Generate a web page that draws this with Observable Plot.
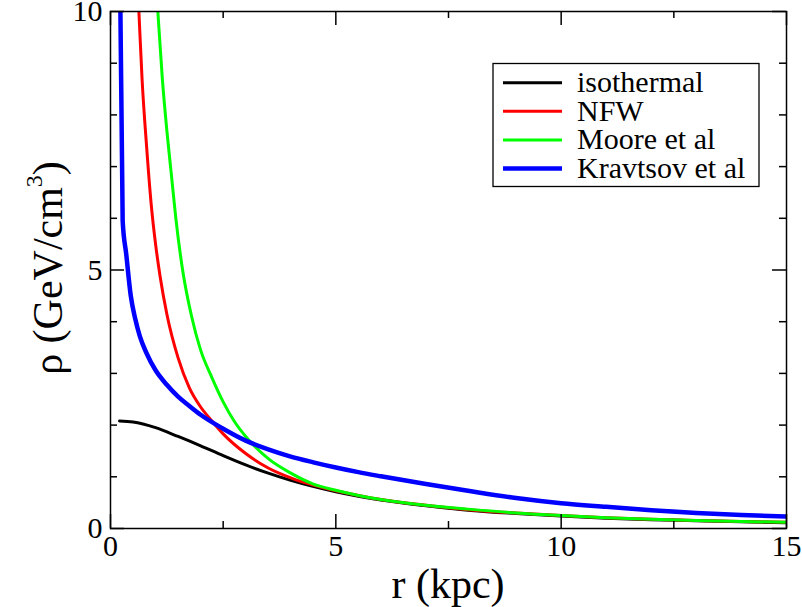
<!DOCTYPE html>
<html><head><meta charset="utf-8">
<script src="https://cdn.jsdelivr.net/npm/d3@7"></script>
<script src="https://cdn.jsdelivr.net/npm/@observablehq/plot@0.6"></script>
<style>
body{margin:0;background:#fff;}
#wrap{position:relative;width:802px;height:607px;}
</style></head><body><div id="wrap"></div>
<script>
// ---- data ----
const seriesNames = ["isothermal", "NFW", "Moore et al", "Kravtsov et al"];
const seriesColors = ["#000000", "#ff0000", "#00ff00", "#0000ff"];
const seriesWidths = [3, 3, 3, 4.5];

const isoR   = [0.2, 0.5, 1, 1.5, 2, 2.5, 3, 3.5, 4, 5, 6, 7, 8, 9, 10, 11, 12, 13, 14, 15];
const isoRho = [2.08, 2.06, 1.95, 1.78, 1.60, 1.41, 1.23, 1.07, 0.93, 0.71, 0.55, 0.44, 0.35, 0.29, 0.24, 0.20, 0.17, 0.15, 0.13, 0.11];

const nfwR   = [0.55, 0.63, 0.7, 0.8, 0.9, 1.0, 1.1, 1.25, 1.5, 1.75, 2.0, 2.25, 2.5, 3.0, 3.5, 4.0, 4.5, 5.0, 5.5, 6, 7, 8, 9, 10, 11, 12, 13, 14, 15];
const nfwRho = [11.5, 10, 8.7, 7.4, 6.3, 5.5, 4.88, 4.15, 3.3, 2.72, 2.35, 2.08, 1.83, 1.45, 1.17, 0.98, 0.84, 0.73, 0.64, 0.56, 0.45, 0.36, 0.30, 0.25, 0.21, 0.18, 0.155, 0.135, 0.12];

const mooreR   = [0.95, 1.05, 1.15, 1.25, 1.35, 1.45, 1.6, 1.8, 2.0, 2.25, 2.5, 2.75, 3.0, 3.5, 4.0, 4.5, 5.0, 5.5, 6, 7, 8, 9, 10, 11, 12, 13, 14, 15];
const mooreRho = [11.5, 10, 8.7, 7.7, 6.85, 6.0, 5.0, 4.1, 3.45, 2.92, 2.45, 2.07, 1.78, 1.35, 1.07, 0.86, 0.74, 0.64, 0.56, 0.45, 0.37, 0.30, 0.25, 0.21, 0.18, 0.155, 0.135, 0.12];

const kravR   = [0.2, 0.27, 0.35, 0.45, 0.55, 0.65, 0.8, 1.0, 1.25, 1.5, 1.75, 2.0, 2.5, 3.0, 3.5, 4.0, 4.5, 5.0, 5.5, 6.0, 7.0, 8.0, 9.0, 10, 11, 12, 13, 14, 15];
const kravRho = [11.6, 5.95, 5.3, 4.5, 4.05, 3.72, 3.39, 3.06, 2.78, 2.55, 2.37, 2.20, 1.93, 1.70, 1.53, 1.39, 1.28, 1.18, 1.09, 1.01, 0.86, 0.72, 0.59, 0.49, 0.42, 0.355, 0.30, 0.26, 0.23];

const xMajor = [0, 5, 10, 15];
const xMinor = [2.5, 7.5, 12.5];
const yMajor = [0, 5, 10];
const yMinor = [1, 2, 3, 4, 6, 7, 8, 9];

const xTitle = "r (kpc)";

// ---- layout ----
const W = 802, H = 607, mL = 110, mR = 16, mT = 11, mB = 79;
const innerW = W - mL - mR, innerH = H - mT - mB;
const FONT = '"Liberation Serif","Times New Roman",Times,serif';

const toRows = (name, rs, vs) => rs.map((r, i) => ({series: name, r, rho: vs[i]}));
const allR = [isoR, nfwR, mooreR, kravR];
const allV = [isoRho, nfwRho, mooreRho, kravRho];

const lineMarks = seriesNames.map((name, i) =>
  Plot.line(toRows(name, allR[i], allV[i]), {
    x: "r", y: "rho", stroke: seriesColors[i], strokeWidth: seriesWidths[i],
    curve: "monotone-x", clip: true, strokeLinejoin: "round"
  })
);

const tickStyle = {stroke: "black", strokeWidth: 1.5};
const plot = Plot.plot({
  width: W, height: H,
  marginLeft: mL, marginRight: mR, marginTop: mT, marginBottom: mB,
  style: {fontFamily: FONT, background: "white", color: "black", overflow: "visible"},
  x: {domain: [0, 15]},
  y: {domain: [0, 10]},
  marks: [
    ...lineMarks,
    Plot.tickX(xMajor, {x: d => d, insetTop: innerH - 14, ...tickStyle}),
    Plot.tickX(xMajor, {x: d => d, insetBottom: innerH - 14, ...tickStyle}),
    Plot.tickX(xMinor, {x: d => d, insetTop: innerH - 7, ...tickStyle}),
    Plot.tickX(xMinor, {x: d => d, insetBottom: innerH - 7, ...tickStyle}),
    Plot.tickY(yMajor, {y: d => d, insetRight: innerW - 14, ...tickStyle}),
    Plot.tickY(yMajor, {y: d => d, insetLeft: innerW - 14, ...tickStyle}),
    Plot.tickY(yMinor, {y: d => d, insetRight: innerW - 7, ...tickStyle}),
    Plot.tickY(yMinor, {y: d => d, insetLeft: innerW - 7, ...tickStyle}),
    Plot.axisX({ticks: xMajor, tickSize: 0, tickPadding: 6, fontSize: 30, label: null, tickFormat: d => String(d)}),
    Plot.axisY({ticks: yMajor, tickSize: 0, tickPadding: 8, fontSize: 30, label: null, tickFormat: d => String(d)}),
    Plot.frame({stroke: "black", strokeWidth: 1.5})
  ]
});
document.getElementById("wrap").appendChild(plot);

const svg = d3.select(plot);
// make sure tick labels use the serif face
svg.selectAll("text").style("font-family", FONT);

// axis titles
svg.append("text")
  .attr("x", mL + innerW / 2).attr("y", 598)
  .attr("text-anchor", "middle")
  .style("font-family", FONT).style("font-size", "42px").attr("fill", "black")
  .text(xTitle);

const yt = svg.append("text")
  .attr("transform", `translate(62,268) rotate(-90)`)
  .attr("text-anchor", "middle")
  .style("font-family", FONT).style("font-size", "42px").attr("fill", "black");
yt.append("tspan").text("ρ (GeV/cm");
yt.append("tspan").style("font-size", "24px").attr("dy", -20).text("3");
yt.append("tspan").attr("dy", 20).text(")");

// legend box
const lg = svg.append("g").attr("text-anchor", "start");
const bx = 493, by = 63.5, bw = 266, bh = 123;
lg.append("rect").attr("x", bx).attr("y", by).attr("width", bw).attr("height", bh)
  .attr("fill", "white").attr("stroke", "black").attr("stroke-width", 1.3);
seriesNames.forEach((name, i) => {
  const ry = 82.7 + i * 28.6;
  lg.append("line").attr("x1", 503).attr("x2", 562).attr("y1", ry).attr("y2", ry)
    .attr("stroke", seriesColors[i]).attr("stroke-width", seriesWidths[i]);
  lg.append("text").attr("x", 577).attr("y", ry + 9.5)
    .attr("text-anchor", "start")
    .style("font-family", FONT).style("font-size", "30px").attr("fill", "black")
    .text(name);
});
</script>
</body></html>
